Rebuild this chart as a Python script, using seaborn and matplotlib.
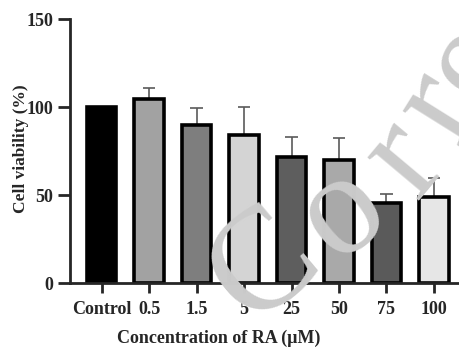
import numpy as np
import pandas as pd
import matplotlib
matplotlib.use("Agg")
import matplotlib.pyplot as plt
import seaborn as sns

# waarden
groups = ["Control", "0.5", "1.5", "5", "25", "50", "75", "100"]
viability = [100, 104.5, 89.6, 84, 71.8, 69.9, 45.6, 49]
sd = [0, 6.3, 10, 16, 11, 12.5, 4.8, 11]
bar_colors = ["#000000", "#a2a2a2", "#7e7e7e", "#d4d4d4", "#5e5e5e", "#a9a9a9", "#5a5a5a", "#e6e6e6"]

df = pd.DataFrame({"group": groups, "viability": viability, "sd": sd})

sns.set_style("ticks")
plt.rcParams["font.family"] = ["Liberation Serif", "DejaVu Serif"]
plt.rcParams["font.weight"] = "bold"

fig = plt.figure(figsize=(4.6, 3.47), dpi=100)
ax = fig.add_axes([0.152, 0.184, 0.848, 0.761])

sns.barplot(data=df, x="group", y="viability", hue="group", palette=bar_colors,
            legend=False, width=0.62, edgecolor="black", linewidth=2.6, ax=ax, zorder=2)

# alleen bovenste foutbalk, achter de staven
pos = np.arange(len(groups))
has_err = df["sd"] > 0
top = df["viability"] + df["sd"]
ax.vlines(pos[has_err], df["viability"][has_err], top[has_err],
          color="#5a5a5a", linewidth=1.2, zorder=1)
ax.hlines(top[has_err], pos[has_err] - 0.13, pos[has_err] + 0.13,
          color="#5a5a5a", linewidth=1.2, zorder=1)

ax.set_xlim(-0.67, 7.55)
ax.set_ylim(0, 150)
ax.set_yticks([0, 50, 100, 150])
sns.despine(ax=ax)
for s in ["left", "bottom"]:
    ax.spines[s].set_linewidth(2)
ax.tick_params(axis="both", width=2, length=9, labelsize=13, pad=3)
ax.tick_params(axis="x", length=7, pad=6)
ax.set_xlabel("Concentration of RA (μM)", fontsize=13, fontweight="bold")
ax.set_ylabel("Cell viability (%)", fontsize=12.5, fontweight="bold")
ax.xaxis.set_label_coords(0.382, -0.175)
ax.yaxis.set_label_coords(-0.105, 0.51)

# watermerk, letter voor letter langs een boog
wm_letters = ["C", "o", "r", "r", "e"]
wm_xy = [(266, 268), (343, 213), (405, 160), (440, 108), (472, 62)]
wm_rot = [40, 38, 50, 58, 62]
for ch, (px, py), r in zip(wm_letters, wm_xy, wm_rot):
    fig.text(px / 460, 1 - py / 347, ch, fontsize=105, color="#cbcbcb", rotation=r,
             ha="center", va="center", rotation_mode="anchor",
             family="Liberation Serif", fontweight="normal", zorder=10)

fig.savefig("out.png", dpi=100)
